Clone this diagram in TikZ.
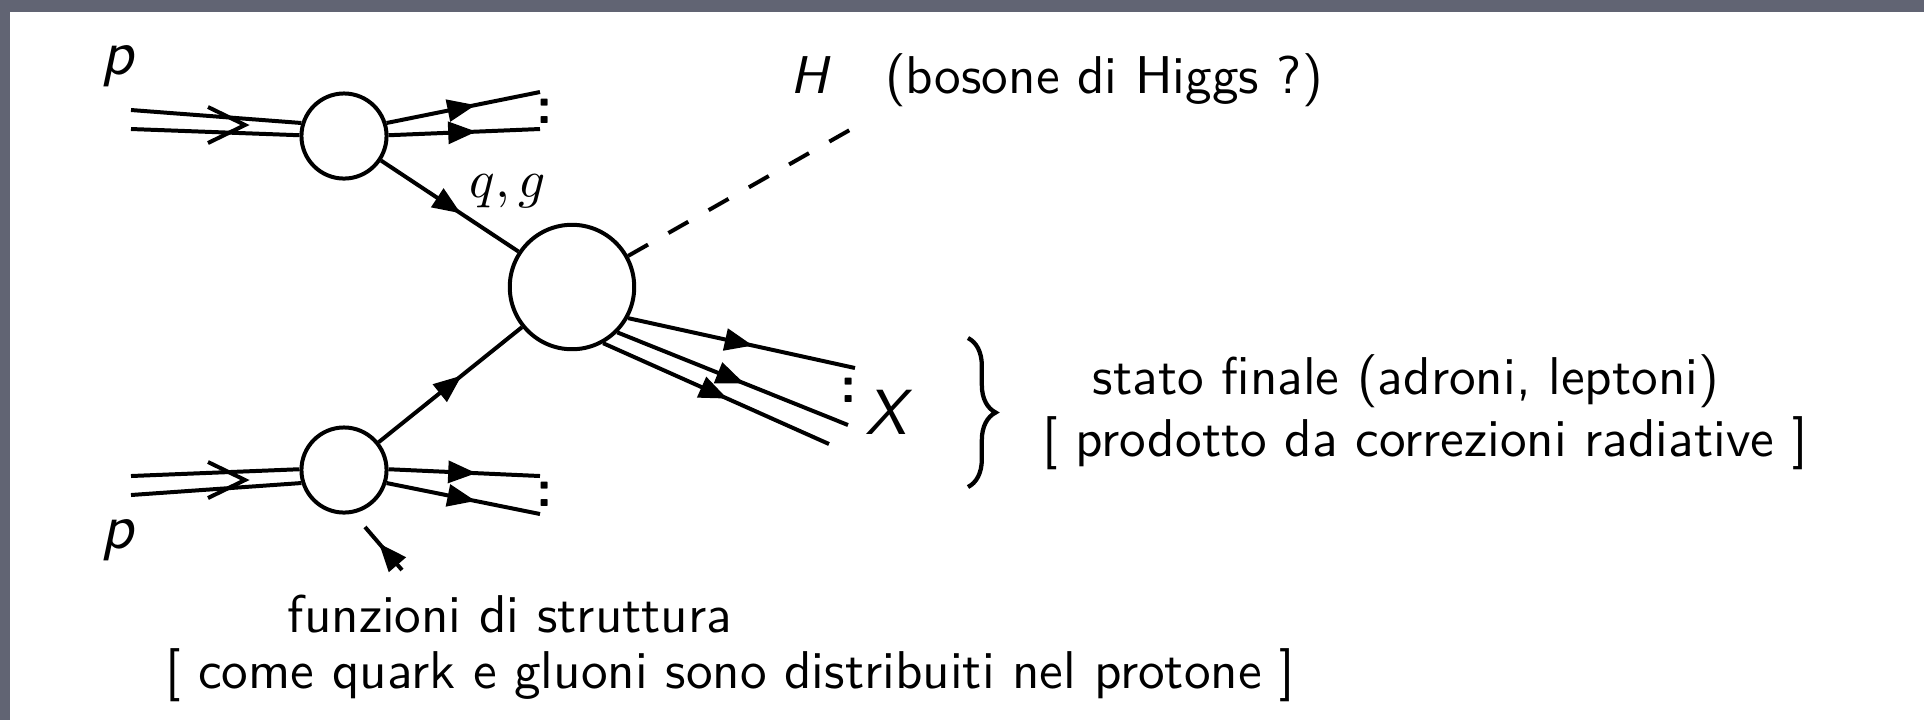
\documentclass[tikz,border=0pt]{standalone}
\usepackage{amsmath}
\usepackage{xcolor}
\usepackage{tikz}
\usetikzlibrary{arrows.meta,decorations.markings,decorations.pathreplacing}
\renewcommand{\familydefault}{\sfdefault}
\definecolor{slidegray}{RGB}{97,100,115}

\begin{document}
\begin{tikzpicture}[
  x=0.188pt, y=-0.188pt,
  blob/.style={circle, draw, line width=0.75pt, fill=white, inner sep=0pt},
  prt/.style={line width=0.75pt},
  fer/.style={line width=0.75pt, decoration={markings, mark=at position #1 with {\arrow{Triangle[length=5.3pt,width=4.1pt]}}}, postaction={decorate}},
  fer/.default=0.58,
  hig/.style={line width=0.75pt, dash pattern=on 4.3pt off 4.4pt},
  lbl/.style={inner sep=0pt, anchor=base},
  dots/.style={inner sep=0pt, font=\bfseries}
]
% slide background
\fill[slidegray] (0,0) rectangle (1924,720);
\fill[white] (10,12) rectangle (1924,720);

\node[blob, minimum size=16pt] (ptop) at (344,136) {};
\node[blob, minimum size=16pt] (pbot) at (344,470) {};
\node[blob, minimum size=23.4pt] (hard) at (572,287) {};

\coordinate (pa1) at (131,110); \coordinate (pa2) at (131,129);
\coordinate (pb1) at (131,476); \coordinate (pb2) at (131,495);
\coordinate (ta1) at (540,92);  \coordinate (ta2) at (540,129);
\coordinate (tb1) at (540,476); \coordinate (tb2) at (540,514);
\coordinate (x1) at (855,368); \coordinate (x2) at (848,425); \coordinate (x3) at (829,444);
\coordinate (hend) at (855,127);
\coordinate (cva) at (245,125); \coordinate (cvb) at (245,480);
\coordinate (sf1) at (402,570); \coordinate (sf2) at (365,527);
\coordinate (br1) at (968,338); \coordinate (br2) at (968,487);

% incoming protons
\draw[prt] (pa1) -- (ptop.163);
\draw[prt] (pa2) -- (ptop.179);
\draw[prt] (cva) ++(-37,-18) -- (cva) -- ++(-37,18);
\draw[prt] (pb1) -- (pbot.179);
\draw[prt] (pb2) -- (pbot.197);
\draw[prt] (cvb) ++(-37,-18) -- (cvb) -- ++(-37,18);

% spectators
\draw[fer] (ptop.17) -- (ta1);
\draw[fer] (ptop.1) -- (ta2);
\draw[fer] (pbot.1) -- (tb1);
\draw[fer] (pbot.-17) -- (tb2);
\node[dots] (d1) at (545,111) {:};
\node[dots] (d2) at (545,494) {:};

% partons into the hard process
\draw[fer] (ptop) -- (hard);
\draw[fer] (pbot) -- (hard);

% final state
\draw[fer=0.55] (hard.-29) -- (x1);
\draw[fer=0.55] (hard.-45) -- (x2);
\draw[fer=0.55] (hard.-61) -- (x3);
\node[dots] (d3) at (849,390) {:};
\draw[hig] (hard.29) -- (hend);

\draw[fer=0.62] (sf1) -- (sf2);
\draw[line width=0.8pt, decorate, decoration={brace, amplitude=5.2pt}] (br1) -- (br2);

% labels
\node[lbl, font=\large\itshape] (p1) at (118,74) {p};
\node[lbl, font=\large\itshape] (p2) at (118,548) {p};
\node[lbl] (qg) at (508,197) {$q, g$};
\node[lbl, font=\itshape] (hlab) at (809,93) {H};
\node[lbl] (hnote) at (1104,93) {(bosone di Higgs ?)};
\node[lbl, font=\large\itshape] (xlab) at (886,434) {X};
\node[lbl] (fs1) at (1406,394) {stato finale (adroni, leptoni)};
\node[lbl] (fs2) at (1425,456) {[ prodotto da correzioni radiative ]};
\node[lbl] (sf) at (510,632) {funzioni di struttura};
\node[lbl] (sfnote) at (730,688) {[ come quark e gluoni sono distribuiti nel protone ]};
\end{tikzpicture}
\end{document}
